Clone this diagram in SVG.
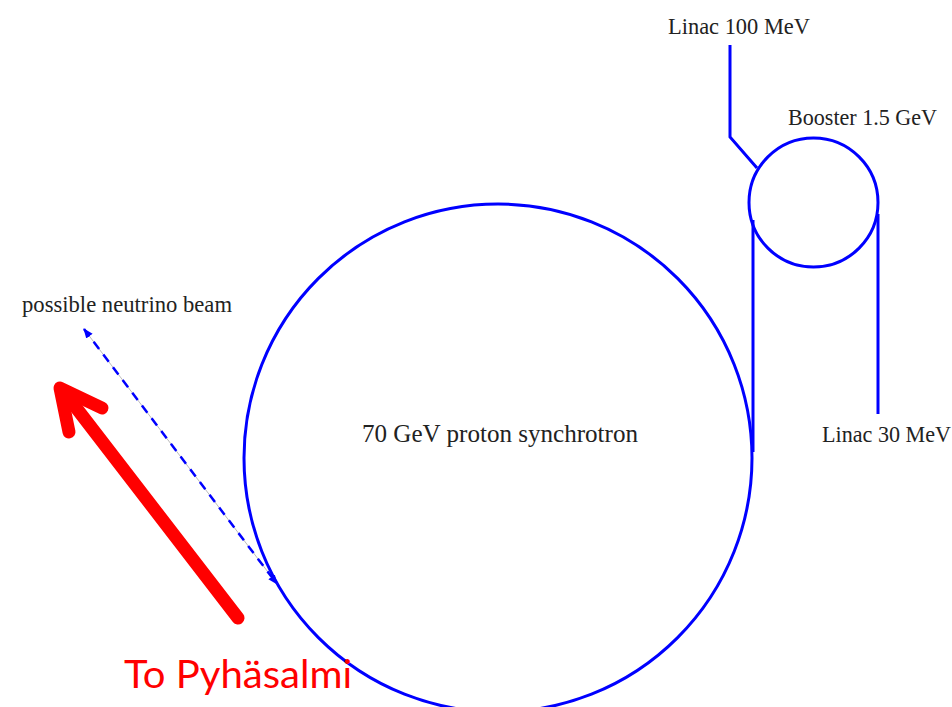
<svg xmlns="http://www.w3.org/2000/svg" width="952" height="707" viewBox="0 0 952 707">
<style>
.ring{fill:none;stroke:#0000ff;stroke-width:3}
.ln{fill:none;stroke:#0000ff;stroke-width:3}
.lbl{font-family:"Liberation Serif","Times New Roman",serif;fill:#222;font-size:22.5px}
</style>
<defs>
<marker id="bh" viewBox="0 0 10 10" refX="9" refY="5" markerWidth="4" markerHeight="4" orient="auto-start-reverse"><path d="M0,1 L10,5 L0,9 Z" fill="#0000ff"/></marker>
</defs>
<rect width="952" height="707" fill="#fff"/>
<g id="synchrotron">
<circle class="ring" cx="498" cy="458" r="254"/>
<text class="lbl" x="362" y="442" style="font-size:25px" textLength="276" lengthAdjust="spacingAndGlyphs">70 GeV proton synchrotron</text>
</g>
<g id="booster">
<circle class="ring" cx="813.5" cy="202.5" r="64.5"/>
<text class="lbl" x="788" y="125" textLength="149" lengthAdjust="spacingAndGlyphs">Booster 1.5 GeV</text>
</g>
<g id="linac100">
<text class="lbl" x="668" y="34" textLength="142" lengthAdjust="spacingAndGlyphs">Linac 100 MeV</text>
</g>
<g id="linac30">
<text class="lbl" x="822" y="442" textLength="129" lengthAdjust="spacingAndGlyphs">Linac 30 MeV</text>
</g>
<g id="beam">
<text class="lbl" x="22" y="312" textLength="210" lengthAdjust="spacingAndGlyphs">possible neutrino beam</text>
</g>
<g id="connectors">
<polyline class="ln" points="730,45 730,137 757,168"/>
<line class="ln" x1="753" y1="220" x2="753" y2="452"/>
<line class="ln" x1="878" y1="214" x2="878" y2="414"/>
<line x1="84" y1="329" x2="277" y2="584" stroke="#bbb" stroke-width="1"/>
<line x1="84" y1="329" x2="277" y2="584" stroke="#0000ff" stroke-width="2.5" stroke-dasharray="9,7" marker-start="url(#bh)" marker-end="url(#bh)"/>
<g stroke="#ff0000" stroke-width="13" stroke-linecap="round" stroke-linejoin="round" fill="none">
<line x1="238" y1="618" x2="64" y2="392"/>
<polyline points="102,408 60,388 69,432"/>
</g>
</g>
<g id="destination">
<text x="124" y="688" font-family="Lato,'Open Sans',sans-serif" font-size="38" fill="#ff0000" textLength="228" lengthAdjust="spacingAndGlyphs">To Pyhäsalmi</text>
</g>
</svg>
